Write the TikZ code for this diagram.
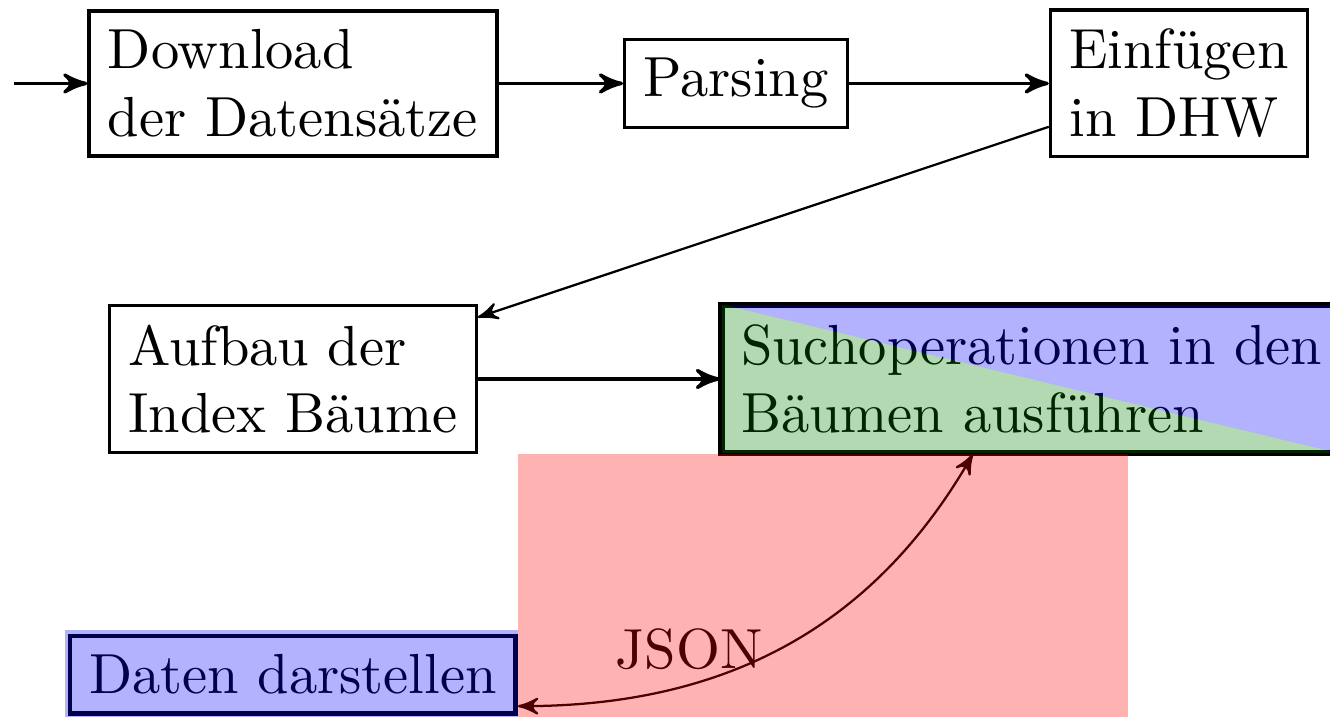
\documentclass[tikz,border=0pt]{standalone}
\usepackage{tikz}
\usetikzlibrary{arrows,shapes,calc}
\definecolor{darkgreen}{RGB}{0,128,0}
\tikzstyle{edge}=[
	->,
	draw=black,
	semithick
]
\tikzstyle{box}=[
	draw=black,
	semithick,
	align=left
]
\tikzstyle{hbox}=[
	box,
	thick
]

\begin{document}
\begin{tikzpicture}[>=stealth']
\useasboundingbox (-1.822,0.519) rectangle (6.45,-3.940);
\node[box] at (0, 0) (download) {Download\\der Datensätze};
\node[box] at (2.756, 0) (parsing) {Parsing};
\node[box] at (5.51, 0) (einfuegen) {Einfügen\\in DHW};
\node[box] at (0, -1.838) (aufbau) {Aufbau der\\Index Bäume};
\node[hbox, anchor=west] at (2.656, -1.838) (suche) {Suchoperationen in den\\Bäumen ausführen};
\node[hbox] at (0, -3.676) (daten) {Daten darstellen};
\coordinate (start) at (-1.735, 0);

\draw[edge] (start) -- (download);
\draw[edge] (download) -- (parsing);
\draw[edge] (parsing) -- (einfuegen);
\draw[edge, thin] (einfuegen) -- (aufbau);
\draw[edge] (aufbau) -- (suche);
\draw[edge, thin, <->] (suche.-128) to[out=-120, in=0] node[pos=0.6, above left, inner sep=1pt, xshift=5.8pt, yshift=-1.4pt] (json) {JSON} (daten.-8);

% overlays
\fill[darkgreen, opacity=0.3] (suche.north west) -- (suche.south west) -- (suche.south east) -- cycle;
\fill[blue, opacity=0.3] (suche.north west) -- (suche.north east) -- (suche.south east) -- cycle;
\draw[semithick] (suche.north west) rectangle (suche.south east);
\fill[blue, opacity=0.3] ($(daten.south west)+(-0.5pt,-0.6pt)$) rectangle ($(daten.north east)+(0,0.6pt)$);
\fill[red, opacity=0.3] (daten.east |- suche.south) rectangle (5.194, -3.940);
\end{tikzpicture}
\end{document}
